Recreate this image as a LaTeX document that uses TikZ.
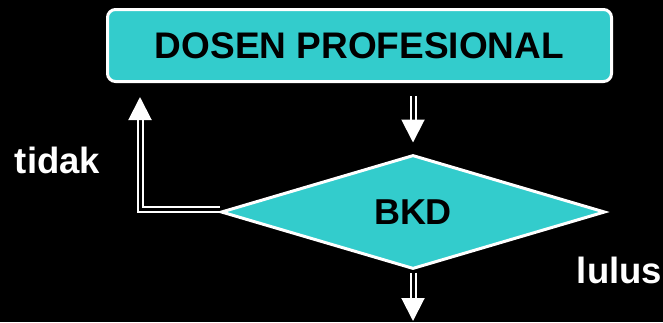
\documentclass[tikz,border=0pt]{standalone}
\usepackage{fontspec}
\setmainfont{Liberation Sans}
\usetikzlibrary{arrows.meta, shapes.geometric}
\definecolor{tosca}{HTML}{33CCCC}

\begin{document}
\begin{tikzpicture}[
  x=1pt, y=-1pt,
  procbox/.style={rectangle, draw=white, fill=tosca, line width=3pt, rounded corners=8pt,
    minimum width=504pt, minimum height=72pt, inner sep=0pt,
    font=\fontsize{37}{40}\selectfont\bfseries},
  decision/.style={diamond, draw=white, fill=tosca, line width=3pt,
    minimum width=384pt, minimum height=114pt, inner sep=0pt,
    font=\fontsize{36}{40}\selectfont\bfseries},
  answer/.style={text=white, anchor=base, inner sep=0pt,
    font=\fontsize{36.5}{40}\selectfont\bfseries},
  flow/.style={draw=white, line width=2pt, double=black, double distance=3pt,
    -{Triangle[width=23pt, length=23pt, fill=white]}}
]
\fill[black] (0,0) rectangle (663,322);
\useasboundingbox (0,0) rectangle (663,322);

\node[procbox] (dosen) at (359.5,45.5) {DOSEN PROFESIONAL};
\node[decision] (bkd) at (413,212) {BKD};
\node[answer] (tidak) at (57.5,173) {tidak};
\node[answer] (lulus) at (619.5,283) {lulus};

\coordinate (back) at (140,97);
\coordinate (out) at (413,321);

\draw[flow, shorten <=13pt, shorten >=11pt] (dosen.south -| bkd.north) -- (bkd.north);
\draw[flow, shorten <=2pt] (bkd.south) -- (out);
\draw[flow] ([yshift=3pt]bkd.west) -| (back);
\end{tikzpicture}
\end{document}
